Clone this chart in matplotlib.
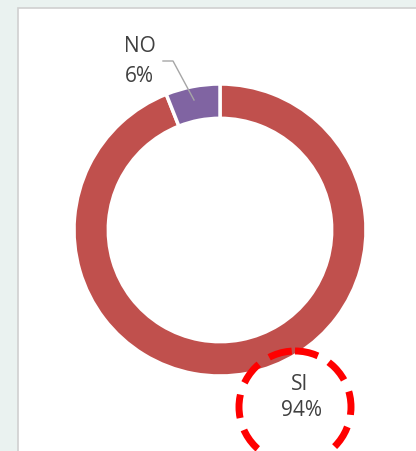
import matplotlib
matplotlib.use("Agg")
import matplotlib.pyplot as plt
from matplotlib.patches import Rectangle, Circle

labels = ["SI", "NO"]
values = [94, 6]
colors = ["#C0504D", "#8064A2"]

W, H = 416, 451
fig = plt.figure(figsize=(W/100, H/100), dpi=100)
fig.patch.set_facecolor("#eaf2f0")

bg = fig.add_axes([0, 0, 1, 1])
bg.set_xlim(0, W); bg.set_ylim(H, 0); bg.axis("off")
bg.add_patch(Rectangle((18, 8), W, H, facecolor="white", edgecolor="#d0d0d0", lw=1.2))

cx, cy, R = 220, 230, 146
ax = fig.add_axes([(cx-R)/W, 1-(cy+R)/H, 2*R/W, 2*R/H])
ax.pie(values, colors=colors, startangle=90, counterclock=False,
       wedgeprops=dict(width=0.235, edgecolor="white", linewidth=2.5))
ax.set_xlim(-1, 1); ax.set_ylim(-1, 1)
ax.set_aspect("auto")

ov = fig.add_axes([0, 0, 1, 1])
ov.set_xlim(0, W); ov.set_ylim(H, 0); ov.axis("off")
font = dict(family=["Open Sans", "DejaVu Sans"], fontsize=15, color="#404040")
ov.text(140, 47, labels[1], ha="center", va="center", **font)
ov.text(139, 77, f"{values[1]}%", ha="center", va="center", **font)
ov.plot([163, 173, 194], [61, 61, 100], color="#a6a6a6", lw=1)
ov.text(300, 384, labels[0], ha="center", va="center", **font)
ov.text(301, 411, f"{values[0]}%", ha="center", va="center", **font)
ov.add_patch(Circle((295, 407), 56, fill=False, edgecolor="red", lw=5,
                    linestyle=(0, (3.4, 1.8))))

fig.savefig("out.png", dpi=100)
